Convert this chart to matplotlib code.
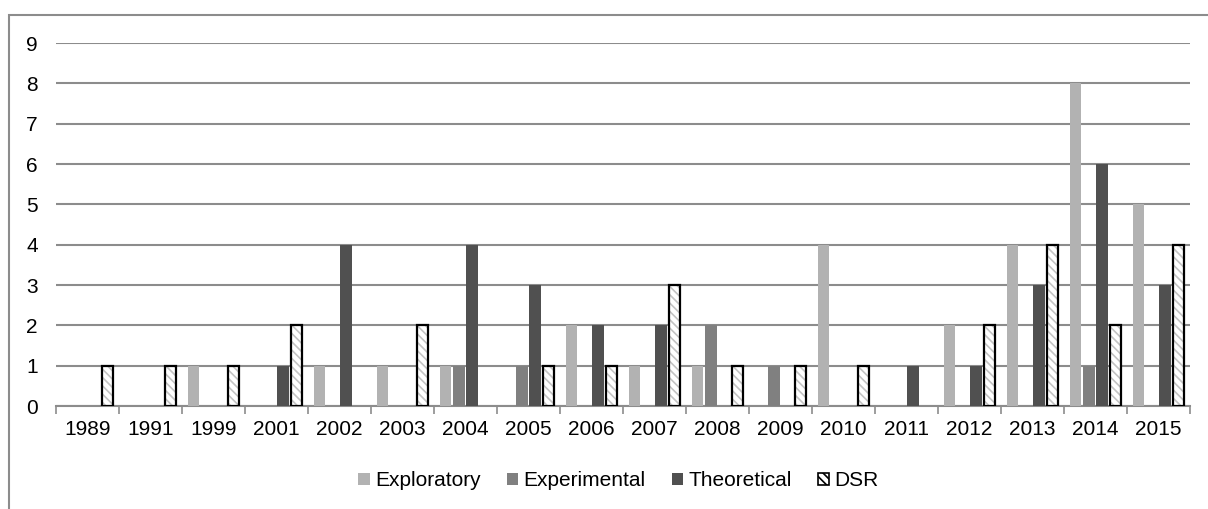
import matplotlib
matplotlib.use("Agg")
import matplotlib.pyplot as plt
import numpy as np
from matplotlib.patches import Rectangle

years = ["1989", "1991", "1999", "2001", "2002", "2003", "2004", "2005", "2006",
         "2007", "2008", "2009", "2010", "2011", "2012", "2013", "2014", "2015"]
exploratory = [0, 0, 1, 0, 1, 1, 1, 0, 2, 1, 1, 0, 4, 0, 2, 4, 8, 5]
experimental = [0, 0, 0, 0, 0, 0, 1, 1, 0, 0, 2, 1, 0, 0, 0, 0, 1, 0]
theoretical = [0, 0, 0, 1, 4, 0, 4, 3, 2, 2, 0, 0, 0, 1, 1, 3, 6, 3]
dsr = [1, 1, 1, 2, 0, 2, 0, 1, 1, 3, 1, 1, 1, 0, 2, 4, 2, 4]
y_ticks = list(range(0, 10))

plt.rcParams['font.family'] = ['Liberation Sans', 'DejaVu Sans']
plt.rcParams['hatch.linewidth'] = 1.2

fig = plt.figure(figsize=(12.08, 5.09), dpi=100)
ax = fig.add_axes([56/1208, 1 - 406/509, (1190-56)/1208, (406-43)/509])

x = np.arange(len(years))
pitch = 0.213
w = 0.185
offs = np.array([-1.5, -0.5, 0.5, 1.5]) * pitch

c_exp = "#b2b2b2"
c_expm = "#808080"
c_theo = "#505050"


def nz(vals):
    return np.array([v if v != 0 else np.nan for v in vals], dtype=float)


ax.bar(x + offs[0], nz(exploratory), w, color=c_exp, label="Exploratory", zorder=3)
ax.bar(x + offs[1], nz(experimental), w, color=c_expm, label="Experimental", zorder=3)
ax.bar(x + offs[2], nz(theoretical), w, color=c_theo, label="Theoretical", zorder=3)
ax.bar(x + offs[3], nz(dsr), w, color="white", edgecolor="#c4c4c4", hatch="\\\\\\\\",
       linewidth=0, zorder=3)
ax.bar(x + offs[3], nz(dsr), w, color="none", edgecolor="black", linewidth=1.6, zorder=4)

ax.set_xlim(-0.5, len(years) - 0.5)
ax.set_ylim(0, 9)
ax.set_yticks(y_ticks)
ax.set_yticklabels([str(v) for v in y_ticks])
ax.yaxis.grid(True, color="#8c8c8c", linewidth=1.5, zorder=0)
ax.set_axisbelow(True)
ax.tick_params(axis="y", length=0, pad=13, labelsize=15)

ax.set_xticks(np.arange(len(years) + 1) - 0.5, minor=False)
ax.set_xticklabels([""] * (len(years) + 1))
ax.set_xticks(x, minor=True)
ax.set_xticklabels(years, minor=True)
ax.tick_params(axis="x", which="major", length=6, width=1.2, color="#8c8c8c", direction="out")
ax.tick_params(axis="x", which="minor", length=0, pad=10, labelsize=15)

for s in ["top", "right", "left"]:
    ax.spines[s].set_visible(False)
ax.spines["bottom"].set_color("#8c8c8c")
ax.spines["bottom"].set_linewidth(1.5)

# DSR legend handle
dsr_handle = Rectangle((0, 0), 1, 1, facecolor="white", edgecolor="black",
                       hatch="\\\\\\\\", linewidth=1.2)
h, l = ax.get_legend_handles_labels()
h.append(dsr_handle)
l.append("DSR")
fig.legend(h, l, loc="center", bbox_to_anchor=(0.512, 1 - 481/509), ncol=4,
           frameon=False, fontsize=15, handlelength=0.55, handleheight=0.55,
           handletextpad=0.25, columnspacing=1.25)

# outer border
fig.add_artist(Rectangle((9/1208, -0.05), 1.1, 1 - 15/509 + 0.05,
                         transform=fig.transFigure, fill=False,
                         edgecolor="#8c8c8c", linewidth=1.5))

fig.savefig("out.png", dpi=100)
